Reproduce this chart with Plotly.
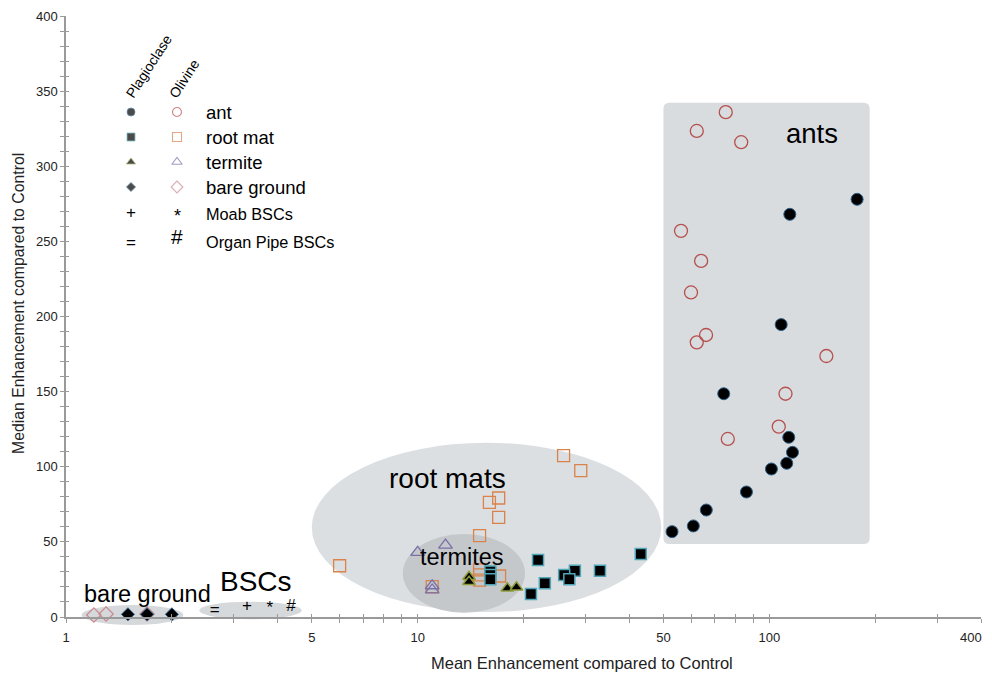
import math
import plotly.graph_objects as go

# ---------------- data ----------------
ant_plag_x = [177.7, 114.4, 108.1, 74.2, 113.6, 116.4, 112.1, 101.4, 86.1, 66.2, 60.8, 52.9]
ant_plag_y = [278.0, 268.0, 194.6, 148.6, 119.6, 109.6, 102.3, 98.5, 83.2, 71.2, 60.6, 56.8]
ant_oliv_x = [75.2, 62.2, 83.2, 56.1, 64.0, 59.9, 66.1, 62.2, 145.3, 111.2, 106.4, 76.2]
ant_oliv_y = [336.0, 323.5, 316.0, 257.0, 237.0, 216.0, 187.7, 182.8, 173.7, 148.6, 126.7, 118.5]
root_plag_x = [43.1, 22.0, 16.1, 16.1, 16.1, 28.0, 33.0, 26.1, 27.0, 23.0, 21.0]
root_plag_y = [41.9, 37.9, 30.2, 28.0, 25.1, 30.8, 30.8, 28.0, 25.1, 22.4, 15.3]
root_oliv_x = [26.0, 29.1, 17.0, 16.0, 17.0, 15.0, 6.0, 15.0, 15.0, 15.0, 17.1, 11.0]
root_oliv_y = [107.4, 97.4, 79.2, 76.3, 66.3, 54.1, 34.1, 31.3, 28.0, 24.6, 27.3, 20.2]
term_plag_x = [14.0, 14.0, 18.0, 19.1]
term_plag_y = [26.8, 23.5, 19.1, 19.8]
term_oliv_x = [10.0, 12.0, 11.0, 11.0]
term_oliv_y = [43.0, 47.9, 20.8, 18.0]
bare_plag_x = [1.5, 1.7, 2.0]
bare_plag_y = [1.8, 1.8, 1.8]
bare_oliv_x = [1.2, 1.3, 1.7]
bare_oliv_y = [1.3, 2.0, 2.0]
bsc_x = [2.65, 3.27, 3.8, 4.36]
bsc_y = [4.0, 6.5, 5.5, 6.5]
bsc_sym = ["=", "+", "*", "#"]

x_tickvals = [1, 5, 10, 50, 100, 400]
x_ticktext = ["1", "5", "10", "50", "100", ""]   # last label drawn as annotation (kept inside page)
x_last_label = "400"
x_minor = [2, 3, 4, 6, 7, 8, 9, 20, 30, 40, 60, 70, 80, 90, 200, 300]

legend_labels = ["ant", "root mat", "termite", "bare ground"]
legend_bsc_labels = ["Moab BSCs", "Organ Pipe BSCs"]

# ---------------- styling ----------------
FONT = "Liberation Sans, Arial, Helvetica, sans-serif"
AX_COL = "#9a9a9a"
OFF = 8                       # default page body margin
WIN_W, WIN_H = 992, 673
PL, PR, PT, PB = 66, 981, 16, 617   # plot area in window pixels
W, H = WIN_W - OFF, WIN_H - OFF
L, T = PL - OFF, PT - OFF
R, B = W - (PR - OFF), H - (PB - OFF)
XMAX = 400
YMAX = 400
PX_PER_DEC = (PR - PL) / math.log10(XMAX)
PX_PER_Y = (PB - PT) / YMAX

def px2paper_x(px):
    return (px - PL) / (PR - PL)

def px2paper_y(py):
    return (PB - py) / (PB - PT)

C_ANT_O = "#b5514f"
C_ROOT_O = "#d9824b"
C_TERM_O = "#7a6fa8"
C_BARE_O = "#c98a8f"
C_PLAG_EDGE = "#2d5f86"
C_ROOT_EDGE = "#4fa6b8"
C_TERM_EDGE = "#8f9a3a"

fig = go.Figure()

def plag(x, y, sym, size, edge, ew=1.5):
    return go.Scatter(x=x, y=y, mode="markers", cliponaxis=False, showlegend=False,
                      marker=dict(symbol=sym, size=size, color="black",
                                  line=dict(color=edge, width=ew)))

def oliv(x, y, sym, size, col, ew=1.3):
    return go.Scatter(x=x, y=y, mode="markers", cliponaxis=False, showlegend=False,
                      marker=dict(symbol=sym + "-open", size=size, color=col,
                                  line=dict(color=col, width=ew)))

fig.add_trace(oliv(bare_oliv_x, bare_oliv_y, "diamond", 11, C_BARE_O))
fig.add_trace(plag(bare_plag_x, bare_plag_y, "diamond", 10, C_PLAG_EDGE, 1))
fig.add_trace(oliv(root_oliv_x, root_oliv_y, "square", 12, C_ROOT_O))
fig.add_trace(oliv(term_oliv_x, term_oliv_y, "triangle-up", 12, C_TERM_O))
fig.add_trace(plag(root_plag_x, root_plag_y, "square", 11, C_ROOT_EDGE))
fig.add_trace(plag(term_plag_x, term_plag_y, "triangle-up", 11, C_TERM_EDGE))
fig.add_trace(oliv(ant_oliv_x, ant_oliv_y, "circle", 13, C_ANT_O))
fig.add_trace(plag(ant_plag_x, ant_plag_y, "circle", 12, C_PLAG_EDGE, 1))
fig.add_trace(go.Scatter(x=bsc_x, y=bsc_y, mode="text", text=bsc_sym, cliponaxis=False,
                         showlegend=False,
                         textfont=dict(family=FONT, size=17, color="black")))

# ---------------- grouping shapes ----------------
def rrect(x0, x1, y0, y1, r):
    kx = 10 ** (r / PX_PER_DEC)
    ry = r / PX_PER_Y
    return (f"M {x0*kx},{y0} L {x1/kx},{y0} Q {x1},{y0} {x1},{y0+ry} "
            f"L {x1},{y1-ry} Q {x1},{y1} {x1/kx},{y1} L {x0*kx},{y1} "
            f"Q {x0},{y1} {x0},{y1-ry} L {x0},{y0+ry} Q {x0},{y0} {x0*kx},{y0} Z")

shapes = [
    dict(type="path", path=rrect(50, 193, 48.6, 342.3, 6), xref="x", yref="y",
         fillcolor="#d9dcdf", line=dict(width=0), layer="below"),
    dict(type="circle", x0=5.0, x1=49.3, y0=3.3, y1=116, xref="x", yref="y",
         fillcolor="#dcdfe1", line=dict(width=0), layer="below"),
    dict(type="circle", x0=9.07, x1=20.2, y0=2.9, y1=55.2, xref="x", yref="y",
         fillcolor="#c5c8cb", line=dict(width=0), layer="below"),
    dict(type="circle", x0=1.108, x1=2.156, y0=-5.3 / YMAX, y1=8.0 / YMAX, xref="x", yref="paper",
         fillcolor="#d6d9dc", line=dict(width=0), layer="below"),
    dict(type="circle", x0=2.394, x1=4.68, y0=-1.5 / YMAX, y1=10.2 / YMAX, xref="x", yref="paper",
         fillcolor="#d6d9dc", line=dict(width=0), layer="below"),
]

annotations = []
def group_label(text, x, y, size):
    annotations.append(dict(text=text, x=math.log10(x), y=y, xref="x", yref="y",
                            showarrow=False, font=dict(family=FONT, size=size, color="black")))

group_label("ants", 132.4, 321.5, 27.5)
group_label("root mats", 12.12, 92.5, 28)
group_label("termites", 13.37, 40, 23.5)
group_label("bare ground", 1.70, 15.3, 23.5)
group_label("BSCs", 3.47, 23.5, 28)

tickfont = dict(family=FONT, size=13, color="#222")

# last x tick label, right-aligned so it stays inside the page
annotations.append(dict(text=x_last_label, xref="paper", yref="paper",
                        x=px2paper_x(984), y=px2paper_y(637), xanchor="right", yanchor="middle",
                        showarrow=False, font=tickfont))

# axis titles (paper coords so they can sit outside the plot area)
annotations.append(dict(text="Mean Enhancement compared to Control", xref="paper", yref="paper",
                        x=px2paper_x(582), y=px2paper_y(663), xanchor="center", yanchor="middle",
                        showarrow=False, font=dict(family=FONT, size=16.5, color="#222")))
annotations.append(dict(text="Median Enhancement compared to Control", xref="paper", yref="paper",
                        x=px2paper_x(18), y=px2paper_y(304), xanchor="center", yanchor="middle",
                        textangle=-90, showarrow=False,
                        font=dict(family=FONT, size=15.8, color="#222")))

# ---------------- custom legend (overlay axes in window pixel units) ----------------
leg_plag_x = 131
leg_oliv_x = 177
leg_rows = [112, 137, 162, 187]

fig.add_trace(go.Scatter(x=[leg_plag_x] * 4, y=leg_rows, xaxis="x2", yaxis="y2", mode="markers",
                         showlegend=False, cliponaxis=False,
                         marker=dict(symbol=["circle", "square", "triangle-up", "diamond"],
                                     size=[8, 8, 8, 7], color="black",
                                     line=dict(color=[C_PLAG_EDGE, C_ROOT_EDGE, C_TERM_EDGE, C_PLAG_EDGE],
                                               width=0.8))))
fig.add_trace(go.Scatter(x=[leg_oliv_x] * 4, y=leg_rows, xaxis="x2", yaxis="y2", mode="markers",
                         showlegend=False, cliponaxis=False,
                         marker=dict(symbol=["circle-open", "square-open", "triangle-up-open", "diamond-open"],
                                     size=[9, 9, 9, 9],
                                     color=[C_ANT_O, C_ROOT_O, C_TERM_O, C_BARE_O],
                                     line=dict(width=1.1))))
for lab, yy in zip(legend_labels, leg_rows):
    annotations.append(dict(text=lab, x=204, y=yy, xref="x2", yref="y2", xanchor="left",
                            showarrow=False, font=dict(family=FONT, size=18.5, color="black")))
for lab, yy in zip(legend_bsc_labels, [214, 242]):
    annotations.append(dict(text=lab, x=204, y=yy, xref="x2", yref="y2", xanchor="left",
                            showarrow=False, font=dict(family=FONT, size=16.3, color="black")))
for sym, xx, yy, sz in [("+", leg_plag_x, 212, 17), ("*", leg_oliv_x, 216, 18),
                        ("=", leg_plag_x, 242, 17), ("#", leg_oliv_x, 236, 21)]:
    annotations.append(dict(text=sym, x=xx, y=yy, xref="x2", yref="y2", showarrow=False,
                            font=dict(family=FONT, size=sz, color="black")))
annotations.append(dict(text="Plagioclase", x=149, y=66, xref="x2", yref="y2", textangle=-57,
                        showarrow=False, font=dict(family=FONT, size=14, color="black")))
annotations.append(dict(text="Olivine", x=184, y=79, xref="x2", yref="y2", textangle=-57,
                        showarrow=False, font=dict(family=FONT, size=14, color="black")))

# dummy trace for inner-tick overlay axes
fig.add_trace(go.Scatter(x=[], y=[], xaxis="x3", yaxis="y3", showlegend=False))

fig.update_layout(
    width=W, height=H,
    margin=dict(l=L, r=R, t=T, b=B, autoexpand=False),
    paper_bgcolor="white", plot_bgcolor="white",
    showlegend=False,
    shapes=shapes, annotations=annotations,
    xaxis=dict(type="log", range=[0, math.log10(XMAX)], tickmode="array", tickvals=x_tickvals,
               ticktext=x_ticktext, ticklabelstandoff=4, showgrid=False, zeroline=False,
               showline=True, linecolor=AX_COL, linewidth=1.5,
               ticks="outside", ticklen=4, tickcolor=AX_COL, tickwidth=1,
               minor=dict(tickmode="array", tickvals=x_minor, ticks="outside", ticklen=4,
                          tickcolor=AX_COL, tickwidth=1, showgrid=False),
               tickfont=tickfont),
    yaxis=dict(range=[0, YMAX], tickmode="linear", tick0=0, dtick=50, showgrid=False, zeroline=False,
               showline=True, linecolor=AX_COL, linewidth=1.5,
               ticks="outside", ticklen=4, tickcolor=AX_COL, tickwidth=1,
               minor=dict(dtick=10, ticks="outside", ticklen=4, tickcolor=AX_COL, tickwidth=1,
                          showgrid=False),
               tickfont=tickfont),
    xaxis3=dict(type="log", overlaying="x", anchor="y3", range=[0, math.log10(XMAX)],
                tickmode="array", tickvals=x_tickvals, showticklabels=False, showgrid=False,
                zeroline=False, showline=False, ticks="inside", ticklen=3, tickcolor=AX_COL,
                minor=dict(tickmode="array", tickvals=x_minor, ticks="inside", ticklen=3,
                           tickcolor=AX_COL, showgrid=False)),
    yaxis3=dict(overlaying="y", anchor="x3", range=[0, YMAX], tickmode="linear", tick0=0, dtick=50,
                showticklabels=False, showgrid=False, zeroline=False, showline=False,
                ticks="inside", ticklen=3, tickcolor=AX_COL,
                minor=dict(dtick=10, ticks="inside", ticklen=3, tickcolor=AX_COL, showgrid=False)),
    xaxis2=dict(overlaying="x", anchor="y2", range=[PL, PR], visible=False, fixedrange=True),
    yaxis2=dict(overlaying="y", anchor="x2", range=[PB, PT], visible=False, fixedrange=True),
    font=dict(family=FONT),
)

fig.write_html("out.html")
